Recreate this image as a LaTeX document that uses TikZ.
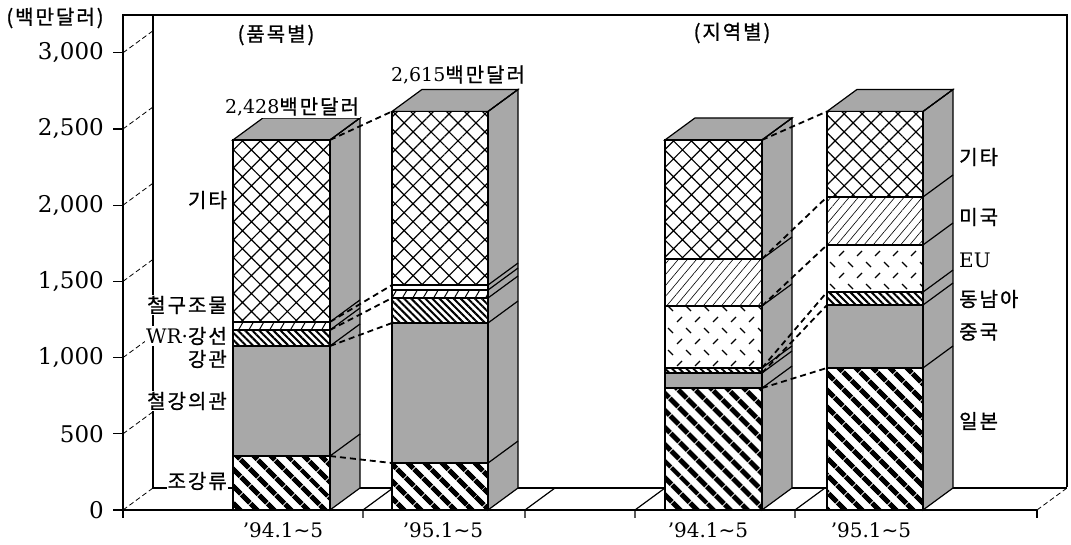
\documentclass[tikz,border=0pt]{standalone}
\usepackage{fontspec}
\setmainfont{DejaVu Serif}
\newfontfamily\kr[LetterSpace=10,FakeBold=1]{Noto Sans CJK KR}
\newfontfamily\sym{DejaVu Sans}
\usetikzlibrary{patterns.meta,calc}

% short dashes for the EU blocks
\pgfdeclarepatternformonly{eudash}{\pgfqpoint{-1pt}{-1pt}}{\pgfqpoint{19pt}{23pt}}{\pgfqpoint{18pt}{22pt}}{%
  \pgfsetlinewidth{1.2pt}%
  \pgfpathmoveto{\pgfqpoint{2pt}{19pt}}\pgfpathlineto{\pgfqpoint{7pt}{14pt}}%
  \pgfpathmoveto{\pgfqpoint{11pt}{3pt}}\pgfpathlineto{\pgfqpoint{16pt}{8pt}}%
  \pgfusepath{stroke}}

% one bar: name, left x, right x, total, segments lo/hi/style
\newcommand\barstack[5]{%
  \path[face] (#3,0) -- ++(30pt,22pt) -- ($(#3,#4)+(30pt,22pt)$) -- (#3,#4) -- cycle;
  \path[face] (#2,#4) -- ++(30pt,22pt) -- ($(#3,#4)+(30pt,22pt)$) -- (#3,#4) -- cycle;
  \foreach \lo/\hi/\pat [count=\i] in {#5} {
    \path[seg,\pat] (#2,\lo) rectangle (#3,\hi);
    \draw[rim] (#3,\hi) -- ++(30pt,22pt);
    \coordinate (#1l\i) at (#2,\hi);
    \coordinate (#1r\i) at (#3,\hi);
  }%
}

\begin{document}
\begin{tikzpicture}[
    x = 1pt, y = 1pt,
    wall/.style = {line width=1.2pt},
    rim/.style = {line width=1.2pt},
    recess/.style = {line width=0.8pt, dash pattern=on 5pt off 3pt},
    conn/.style = {line width=1.8pt, dash pattern=on 6pt off 4pt},
    face/.style = {draw, line width=1.2pt, fill=black!34},
    seg/.style = {draw, line width=1.2pt, preaction={fill=white}},
    crossp/.style = {pattern={Hatch[angle=45,distance=12.7pt,line width=1.2pt]}},
    bandp/.style = {pattern={Lines[angle=-45,distance=13pt,line width=5.5pt]}},
    finep/.style = {pattern={Lines[angle=-45,distance=5pt,line width=2pt]}},
    smallp/.style = {pattern={Lines[angle=60,distance=9pt,line width=1pt]}},
    slashp/.style = {pattern={Lines[angle=50,distance=7pt,line width=0.6pt]}},
    eup/.style = {pattern=eudash},
    grayp/.style = {fill=black!34},
    blankp/.style = {},
    lab/.style = {font=\kr\fontsize{20}{22}\selectfont, fill=white, inner sep=1pt},
    num/.style = {font=\fontsize{23}{26}\selectfont, inner sep=0pt},
    cat/.style = {font=\fontsize{20}{22}\selectfont}
  ]
  \useasboundingbox (0,0) rectangle (1071,545);

  % walls and floor
  \draw[wall] (123,27) -- (123,530) -- (1067,530) -- (1067,58);
  \draw[wall] (153,530) -- (153,57) -- (1067,57);
  \draw[wall] (123,35) -- (1037,35);
  \foreach \x in {363,525,635,795}
    \draw[wall] (\x,27) -- (\x,35) -- ++(30,22);
  \draw[wall] (1037,27) -- (1037,35);
  \draw[recess] (1037,35) -- ++(30,22);

  \begin{scope}[yshift=35pt, y=0.1524pt]
    \foreach \v/\t in {0/0, 500/500, 1000/{1,000}, 1500/{1,500}, 2000/{2,000}, 2500/{2,500}, 3000/{3,000}} {
      \draw[wall] (113,\v) -- (123,\v);
      \draw[recess] (123,\v) -- ++(30pt,22pt);
      \node[num, anchor=east] (y\v) at (104,\v) {\t};
    }

    \barstack{a}{233}{330}{2428}{0/354/bandp, 354/1076/grayp, 1076/1181/finep, 1181/1234/smallp, 1234/2428/crossp}
    \barstack{b}{392}{488}{2615}{0/308/bandp, 308/1227/grayp, 1227/1391/finep, 1391/1443/smallp, 1443/1476/blankp, 1476/2615/crossp}
    \barstack{c}{665}{762}{2428}{0/800/bandp, 800/899/grayp, 899/932/finep, 932/1339/eup, 1339/1647/slashp, 1647/2428/crossp}
    \barstack{d}{827}{923}{2615}{0/932/bandp, 932/1345/grayp, 1345/1430/finep, 1430/1739/eup, 1739/2054/slashp, 2054/2615/crossp}
  \end{scope}

  % links between the two years
  \draw[conn] (ar5) -- (bl6);
  \draw[conn] (ar4) -- (bl5);
  \draw[conn] (ar3) -- (bl3);
  \draw[conn] (ar2) -- (bl2);
  \draw[conn] (ar1) -- (bl1);
  \foreach \i in {1,...,6}
    \draw[conn] (cr\i) -- (dl\i);

  % texts
  \node[lab] (unit) at (55,527) {(백만달러)};
  \node[lab] (title1) at (276,510) {(품목별)};
  \node[lab] (title2) at (732,512) {(지역별)};
  \node[lab] (sum1) at (292,438) {{\rmfamily\fontsize{19}{22}\selectfont 2,428}백만달러};
  \node[lab] (sum2) at (458,470) {{\rmfamily\fontsize{19}{22}\selectfont 2,615}백만달러};

  \node[lab, anchor=east] (p1) at (228,345) {기타};
  \node[lab, anchor=east] (p2) at (228,240) {철구조물};
  \node[lab, anchor=east] (p3) at (228,209) {{\rmfamily WR·}강선};
  \node[lab, anchor=east] (p4) at (228,186) {강관};
  \node[lab, anchor=east] (p5) at (228,144) {철강의관};
  \node[lab, anchor=east] (p6) at (228,64) {조강류};

  \node[lab, anchor=west] (r1) at (958,388) {기타};
  \node[lab, anchor=west] (r2) at (958,328) {미국};
  \node[lab, anchor=west] (r3) at (958,285) {{\rmfamily EU}};
  \node[lab, anchor=west] (r4) at (958,246) {동남아};
  \node[lab, anchor=west] (r5) at (958,213) {중국};
  \node[lab, anchor=west] (r6) at (958,124) {일본};

  \node[cat] (c1) at (283,15) {’94.1{\sym ∼}5};
  \node[cat] (c2) at (443,15) {’95.1{\sym ∼}5};
  \node[cat] (c3) at (708,15) {’94.1{\sym ∼}5};
  \node[cat] (c4) at (871,15) {’95.1{\sym ∼}5};
\end{tikzpicture}
\end{document}
